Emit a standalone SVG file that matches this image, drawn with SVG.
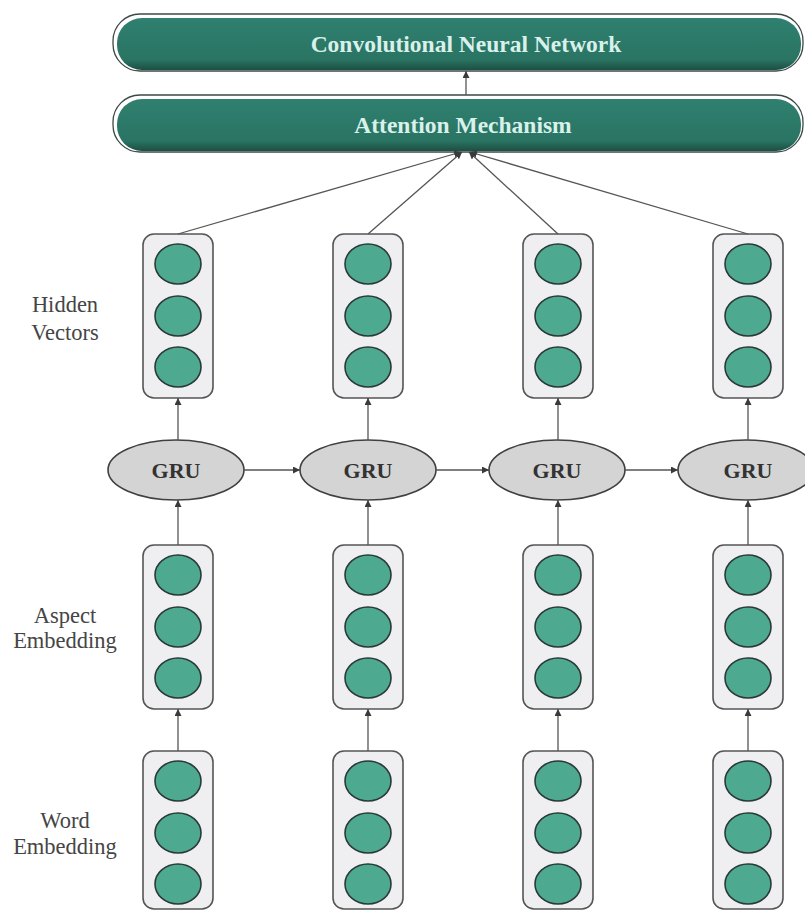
<svg xmlns="http://www.w3.org/2000/svg" width="805" height="912" viewBox="0 0 805 912">
<style>
.lbl{font-family:"Liberation Serif","DejaVu Serif",serif;font-size:22.5px;fill:#454545;text-anchor:middle}
.bar-t{font-family:"Liberation Serif","DejaVu Serif",serif;font-size:23.5px;font-weight:bold;fill:#d9f1ea;text-anchor:middle}
.gru-t{font-family:"Liberation Serif","DejaVu Serif",serif;font-size:22px;font-weight:bold;fill:#333;text-anchor:middle}
.box{fill:#efeef1;stroke:#555;stroke-width:1.6}
.cell{fill:#4ea991;stroke:#2b3a37;stroke-width:1.6}
.gru{fill:#d4d4d4;stroke:#404040;stroke-width:1.6}
.bar-o{fill:#ffffff;stroke:#3c4a47;stroke-width:1.3}
.bar-i{fill:url(#barg)}
.conn line{stroke:#555;stroke-width:1.3;marker-end:url(#ah)}
</style>
<defs>
<linearGradient id="barg" x1="0" y1="0" x2="0" y2="1">
<stop offset="0" stop-color="#2f8070"/>
<stop offset="0.8" stop-color="#2a7463"/>
<stop offset="1" stop-color="#1c4f42"/>
</linearGradient>
<marker id="ah" viewBox="0 0 10 10" refX="10" refY="5" markerWidth="7" markerHeight="7" markerUnits="userSpaceOnUse" orient="auto">
<path d="M0,0 L10,5 L0,10 z" fill="#3a3a3a"/>
</marker>
<g id="vec">
<rect class="box" x="-35" y="0" width="70" height="164" rx="11"/>
<ellipse class="cell" cx="0" cy="30" rx="23" ry="20"/>
<ellipse class="cell" cx="0" cy="82" rx="23" ry="20"/>
<ellipse class="cell" cx="0" cy="133" rx="23" ry="20"/>
</g>
<g id="wvec">
<rect class="box" x="-35" y="0" width="70" height="158" rx="11"/>
<ellipse class="cell" cx="0" cy="30" rx="23" ry="20"/>
<ellipse class="cell" cx="0" cy="82" rx="23" ry="20"/>
<ellipse class="cell" cx="0" cy="133" rx="23" ry="20"/>
</g>
</defs>
<rect width="805" height="912" fill="#ffffff"/>

<g id="cnn">
<rect class="bar-o" x="113" y="14" width="690" height="57" rx="27"/>
<rect class="bar-i" x="117" y="18" width="684" height="52" rx="25"/>
<text class="bar-t" x="466" y="52">Convolutional Neural Network</text>
</g>
<g id="attention">
<rect class="bar-o" x="113" y="95" width="690" height="57" rx="27"/>
<rect class="bar-i" x="117" y="99" width="684" height="52" rx="25"/>
<text class="bar-t" x="463" y="133">Attention Mechanism</text>
</g>

<g id="labels">
<text class="lbl" x="65" y="312">Hidden</text>
<text class="lbl" x="65" y="340">Vectors</text>
<text class="lbl" x="65" y="623">Aspect</text>
<text class="lbl" x="65" y="648">Embedding</text>
<text class="lbl" x="65" y="828">Word</text>
<text class="lbl" x="65" y="854">Embedding</text>
</g>

<g id="hidden1"><use href="#vec" x="178" y="234"/></g>
<g id="hidden2"><use href="#vec" x="368" y="234"/></g>
<g id="hidden3"><use href="#vec" x="558" y="234"/></g>
<g id="hidden4"><use href="#vec" x="748" y="234"/></g>

<g id="aspect1"><use href="#vec" x="178" y="545"/></g>
<g id="aspect2"><use href="#vec" x="368" y="545"/></g>
<g id="aspect3"><use href="#vec" x="558" y="545"/></g>
<g id="aspect4"><use href="#vec" x="748" y="545"/></g>

<g id="word1"><use href="#wvec" x="178" y="751"/></g>
<g id="word2"><use href="#wvec" x="368" y="751"/></g>
<g id="word3"><use href="#wvec" x="558" y="751"/></g>
<g id="word4"><use href="#wvec" x="748" y="751"/></g>

<g id="gru1"><ellipse class="gru" cx="176" cy="470" rx="68" ry="30"/><text class="gru-t" x="176" y="478">GRU</text></g>
<g id="gru2"><ellipse class="gru" cx="368" cy="470" rx="68" ry="30"/><text class="gru-t" x="368" y="478">GRU</text></g>
<g id="gru3"><ellipse class="gru" cx="557" cy="470" rx="68" ry="30"/><text class="gru-t" x="557" y="478">GRU</text></g>
<g id="gru4"><ellipse class="gru" cx="746" cy="470" rx="68" ry="30"/><text class="gru-t" x="748" y="478">GRU</text></g>

<g id="connectors" class="conn">
<line x1="466" y1="95" x2="466" y2="71"/>
<line x1="178" y1="234" x2="461" y2="152"/>
<line x1="368" y1="234" x2="462" y2="152"/>
<line x1="558" y1="234" x2="469" y2="152"/>
<line x1="748" y1="234" x2="470" y2="152"/>
<line x1="178" y1="440" x2="178" y2="398"/>
<line x1="368" y1="440" x2="368" y2="398"/>
<line x1="558" y1="440" x2="558" y2="398"/>
<line x1="748" y1="440" x2="748" y2="398"/>
<line x1="178" y1="545" x2="178" y2="500"/>
<line x1="368" y1="545" x2="368" y2="500"/>
<line x1="558" y1="545" x2="558" y2="500"/>
<line x1="748" y1="545" x2="748" y2="500"/>
<line x1="178" y1="751" x2="178" y2="709"/>
<line x1="368" y1="751" x2="368" y2="709"/>
<line x1="558" y1="751" x2="558" y2="709"/>
<line x1="748" y1="751" x2="748" y2="709"/>
<line x1="244" y1="470" x2="300" y2="470"/>
<line x1="436" y1="470" x2="489" y2="470"/>
<line x1="625" y1="470" x2="678" y2="470"/>
</g>
</svg>
